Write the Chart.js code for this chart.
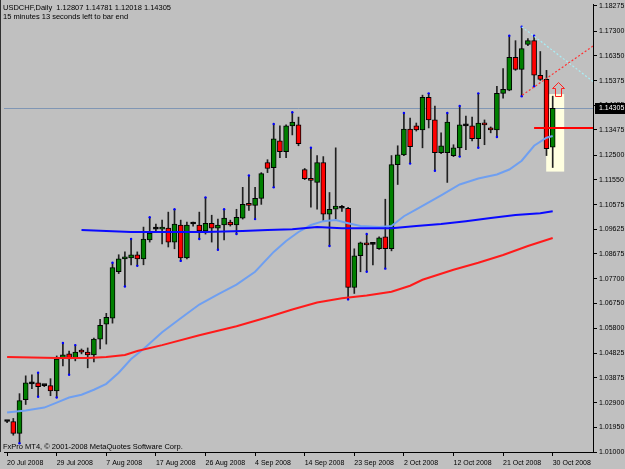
<!DOCTYPE html>
<html>
<head>
<meta charset="utf-8">
<script src="https://cdn.jsdelivr.net/npm/chart.js@4.4.0/dist/chart.umd.min.js"></script>
<style>
  html, body { margin: 0; padding: 0; background: #c0c0c0; }
</style>
</head>
<body>
<canvas id="myChart" width="625" height="469"></canvas>
<script>
// bar dates (daily bars incl. sunday sessions)
const julDays = [20,21,22,23,24,25,27,28,29,30,31];
const augDays = [1,3,4,5,6,7,8,10,11,12,13,14,15,17,18,19,20,21,22,24,25,26,27,28,29,31];
const sepDays = [1,2,3,4,5,7,8,9,10,11,12,14,15,16,17,18,19,21,22,23,24,25,26,28,29,30];
const octDays = [1,2,3,5,6,7,8,9,10,12,13,14,15,16,17,19,20,21,22,23,24,26,27,28,29,30];
const emptySlots = 6; // free space right of the last bar

const tickDays = ['20 Jul 2008','29 Jul 2008','7 Aug 2008','17 Aug 2008','26 Aug 2008','4 Sep 2008',
  '14 Sep 2008','23 Sep 2008','2 Oct 2008','12 Oct 2008','21 Oct 2008','30 Oct 2008'];
const priceTicks = [1.01000,1.01950,1.02900,1.03875,1.04825,1.05800,1.06750,1.07700,1.08675,1.09625,
  1.10575,1.11550,1.12500,1.13475,1.14425,1.15375,1.16350,1.17300,1.18275];

// OHLC
const opens = [1.0218,1.0218,1.0172,1.0303,1.0364,1.0368,1.0357,1.0357,1.0337,1.0464,
  1.0480,1.0464,1.0495,1.0487,1.0476,1.0537,1.0595,1.0618,1.0798,1.0848,
  1.0852,1.0864,1.0848,1.0921,1.0963,1.0963,1.0967,1.0913,1.0979,1.0852,
  1.0983,1.0979,1.0956,1.0986,1.0967,1.0979,1.0990,1.0979,1.1006,1.1059,
  1.1055,1.1082,1.1221,1.1201,1.1305,1.1263,1.1363,1.1367,1.1194,1.1159,
  1.1144,1.1221,1.1021,1.1040,1.1044,1.1044,1.0737,1.0860,1.0910,1.0904,
  1.0887,1.0933,1.0887,1.1213,1.1251,1.1351,1.1363,1.1347,1.1474,1.1386,
  1.1259,1.1259,1.1248,1.1278,1.1363,1.1363,1.1313,1.1374,1.1355,1.1347,
  1.1489,1.1501,1.1628,1.1582,1.1678,1.1693,1.1559,1.1543,1.12807];
const highs = [1.0222,1.0230,1.0326,1.0395,1.0399,1.0407,1.0360,1.0384,1.0472,1.0522,
  1.0491,1.0514,1.0499,1.0503,1.0541,1.0614,1.0637,1.0833,1.0864,1.0875,
  1.0925,1.0875,1.0971,1.1009,1.0983,1.0998,1.1029,1.1040,1.0998,1.0990,
  1.0990,1.1029,1.1086,1.1017,1.1002,1.1040,1.0998,1.1040,1.1125,1.1171,
  1.1125,1.1182,1.1232,1.1370,1.1363,1.1367,1.1416,1.1397,1.1198,1.1278,
  1.1248,1.1244,1.1105,1.1278,1.1055,1.1048,1.0887,1.0913,1.0944,1.0910,
  1.0933,1.1079,1.1248,1.1286,1.1413,1.1393,1.1374,1.1482,1.1489,1.1440,
  1.1336,1.1413,1.1290,1.1440,1.1401,1.1397,1.1489,1.1386,1.1359,1.1516,
  1.1585,1.1712,1.1693,1.1747,1.1701,1.1712,1.1651,1.1578,1.14781];
const lows = [1.0214,1.0165,1.0134,1.0284,1.0345,1.0314,1.0353,1.0318,1.0311,1.0433,
  1.0399,1.0453,1.0480,1.0426,1.0449,1.0499,1.0518,1.0599,1.0791,1.0741,
  1.0825,1.0821,1.0825,1.0913,1.0952,1.0906,1.0894,1.0887,1.0840,1.0848,
  1.0975,1.0925,1.0944,1.0913,1.0883,1.0921,1.0975,1.0944,1.1002,1.1036,
  1.1002,1.1059,1.1182,1.1125,1.1240,1.1240,1.1328,1.1286,1.1155,1.1048,
  1.1040,1.0994,1.0898,1.1002,1.1032,1.0691,1.0714,1.0798,1.0798,1.0825,
  1.0885,1.0810,1.0879,1.1136,1.1248,1.1217,1.1343,1.1278,1.1355,1.1189,
  1.1255,1.1144,1.1244,1.1244,1.1271,1.1305,1.1278,1.1290,1.1336,1.1320,
  1.1470,1.1499,1.1578,1.1478,1.1674,1.1516,1.1539,1.1248,1.12018];
const closes = [1.0218,1.0172,1.0299,1.0368,1.0364,1.0353,1.0357,1.0337,1.0460,1.0476,
  1.0460,1.0487,1.0487,1.0476,1.0537,1.0591,1.0622,1.0814,1.0848,1.0856,
  1.0864,1.0848,1.0925,1.0948,1.0963,1.0971,1.0913,1.0983,1.0852,1.0979,
  1.0983,1.0956,1.0986,1.0967,1.0979,1.1006,1.0979,1.1009,1.1059,1.1055,
  1.1082,1.1178,1.1198,1.1313,1.1263,1.1363,1.1378,1.1294,1.1159,1.1152,
  1.1221,1.1021,1.1040,1.1052,1.1044,1.0737,1.0860,1.0910,1.0902,1.0904,
  1.0929,1.0887,1.1213,1.1251,1.1351,1.1282,1.1347,1.1474,1.1386,1.1259,
  1.1286,1.1378,1.1278,1.1367,1.1363,1.1313,1.1374,1.1367,1.1347,1.1489,
  1.1505,1.1628,1.1582,1.1662,1.1693,1.1559,1.1543,1.1275,1.14305];

// moving averages, read at these bars
const maFastBars = [0,3,6,8,10,12,14,16,18,20,22,25,28,31,34,37,40,43,45,47,49,51,53,55,57,60,62,64,66,68,70,73,76,79,81,83,85,87,88];
const maFastVals = [1.0253,1.0261,1.0272,1.0291,1.0311,1.0322,1.0341,1.0364,1.0407,1.0460,1.0499,1.0564,1.0618,1.0671,
  1.0710,1.0748,1.0798,1.0875,1.0917,1.0952,1.0979,1.0994,1.0998,1.0986,1.0975,1.0971,1.0975,1.1013,1.1040,1.1067,
  1.1094,1.1136,1.1159,1.1175,1.1194,1.1228,1.1286,1.1317,1.1324];
const maMidBars = [12,16,20,26,32,38,42,46,50,54,58,62,66,70,74,78,82,86,88];
const maMidVals = [1.0960,1.0956,1.0952,1.0952,1.0952,1.0956,1.0960,1.0963,1.0971,1.0967,1.0967,1.0967,1.0975,1.0983,
  1.0994,1.1006,1.1018,1.1025,1.1032];
const maSlowBars = [0,8,13,16,19,21,25,31,37,42,46,50,54,58,62,65,67,72,76,80,84,88];
const maSlowVals = [1.0468,1.0464,1.0464,1.0468,1.0476,1.0491,1.0514,1.0552,1.0587,1.0622,1.0652,1.0679,1.0695,1.0706,
  1.0721,1.0744,1.0767,1.0806,1.0833,1.0863,1.0898,1.0929];

// fractal marks
const fractalUp = [5,9,11,17,20,23,27,32,35,39,43,46,49,58,64,68,71,73,76,81,83,85];
const fractalDown = [2,5,8,10,19,21,28,31,34,37,40,43,52,55,58,61,65,69,73,76,79,83,85];

// chart objects (bar index, price)
const lastPrice = 1.14305;
const boxBars = [86.95, 89.85];
const boxPrices = [1.1186, 1.1486];
const levelStart = 85;
const levelPrice = 1.1355;
const redRay = [[83.1, 1.1482], [94.5, 1.1672]];
const cyanRay = [[83, 1.1747], [94.5, 1.1535]];
const arrowBar = 88.8;
const arrowPrice = 1.1532;

const dates = [].concat(
  julDays.map(d => d + ' Jul 2008'), augDays.map(d => d + ' Aug 2008'),
  sepDays.map(d => d + ' Sep 2008'), octDays.map(d => d + ' Oct 2008'));
const labels = dates.concat(new Array(emptySlots).fill(''));

function sparse(bars, vals) {
  const out = new Array(dates.length).fill(null);
  bars.forEach((b, k) => { out[b] = vals[k]; });
  return out;
}
function bodyColor(i) {
  if (closes[i] > opens[i]) return '#008000';
  if (closes[i] < opens[i]) return '#ff0000';
  return '#000000';
}

const overlay = {
  id: 'overlay',
  beforeDraw(chart) {
    const c = chart.ctx;
    c.save();
    c.fillStyle = '#c0c0c0';
    c.fillRect(0, 0, chart.width, chart.height);
    c.restore();
  },
  beforeDatasetsDraw(chart) {
    const c = chart.ctx, a = chart.chartArea, x = chart.scales.x, y = chart.scales.y;
    c.save();
    c.fillStyle = '#ffffe0';
    const x0 = x.getPixelForValue(boxBars[0]), x1 = x.getPixelForValue(boxBars[1]);
    const y0 = y.getPixelForValue(boxPrices[1]), y1 = y.getPixelForValue(boxPrices[0]);
    c.fillRect(x0, y0, x1 - x0, y1 - y0);
    const py = Math.round(y.getPixelForValue(lastPrice)) + 0.5;
    c.strokeStyle = '#8096b4';
    c.lineWidth = 1;
    c.beginPath(); c.moveTo(a.left, py); c.lineTo(a.right, py); c.stroke();
    c.restore();
  },
  afterDatasetsDraw(chart) {
    const c = chart.ctx, a = chart.chartArea, x = chart.scales.x, y = chart.scales.y;
    c.save();
    c.beginPath(); c.rect(a.left, a.top, a.right - a.left, a.bottom - a.top); c.clip();
    // level line
    const ly = Math.round(y.getPixelForValue(levelPrice));
    c.strokeStyle = '#ff0000';
    c.lineWidth = 2;
    c.beginPath(); c.moveTo(x.getPixelForValue(levelStart), ly); c.lineTo(a.right, ly); c.stroke();
    // trend rays
    c.lineWidth = 1.2;
    c.setLineDash([2, 2]);
    [[redRay, '#ff3030'], [cyanRay, '#a8eef6']].forEach(([ray, col]) => {
      c.strokeStyle = col;
      c.beginPath();
      c.moveTo(x.getPixelForValue(ray[0][0]), y.getPixelForValue(ray[0][1]));
      c.lineTo(x.getPixelForValue(ray[1][0]), y.getPixelForValue(ray[1][1]));
      c.stroke();
    });
    c.setLineDash([]);
    // buy arrow
    const ax = Math.round(x.getPixelForValue(arrowBar)) + 0.5, ay = Math.round(y.getPixelForValue(arrowPrice)) + 0.5;
    c.lineWidth = 1;
    c.strokeStyle = '#ff2020';
    c.beginPath();
    c.moveTo(ax, ay);
    c.lineTo(ax + 6, ay + 6); c.lineTo(ax + 3, ay + 6); c.lineTo(ax + 3, ay + 14);
    c.lineTo(ax - 3, ay + 14); c.lineTo(ax - 3, ay + 6); c.lineTo(ax - 6, ay + 6);
    c.closePath();
    c.stroke();
    c.restore();
  },
  afterDraw(chart) {
    const c = chart.ctx, a = chart.chartArea, y = chart.scales.y;
    c.save();
    c.strokeStyle = '#303030';
    c.lineWidth = 1;
    c.beginPath(); c.moveTo(0.5, 0); c.lineTo(0.5, a.bottom); c.stroke();
    c.fillStyle = '#000';
    c.font = '7.5px "Liberation Sans", Arial, sans-serif';
    c.textBaseline = 'alphabetic';
    c.fillText('USDCHF,Daily  1.12807 1.14781 1.12018 1.14305', 3, 10);
    c.fillText('15 minutes 13 seconds left to bar end', 3, 19);
    c.fillText('FxPro MT4, \u00a9 2001-2008 MetaQuotes Software Corp.', 3, 449);
    // current price tag
    const py = Math.round(y.getPixelForValue(lastPrice));
    c.fillStyle = '#000';
    c.fillRect(a.right + 2, py - 5, chart.width - a.right - 2, 11);
    c.fillStyle = '#fff';
    c.font = '7px "Liberation Sans", Arial, sans-serif';
    c.textBaseline = 'middle';
    c.fillText(lastPrice.toFixed(5), a.right + 6, py + 0.5);
    c.restore();
  }
};

const tickFont = { family: '"Liberation Sans", Arial, sans-serif', size: 7 };

new Chart(document.getElementById('myChart').getContext('2d'), {
  type: 'bar',
  data: {
    labels: labels,
    datasets: [
      {
        label: 'wicks',
        data: dates.map((d, i) => [lows[i], highs[i]]),
        backgroundColor: '#202020',
        barThickness: 1,
        grouped: false,
        order: 4
      },
      {
        label: 'bodies',
        data: dates.map((d, i) => [opens[i], closes[i]]),
        backgroundColor: dates.map((d, i) => bodyColor(i)),
        borderColor: '#000',
        borderWidth: 1,
        borderSkipped: false,
        barThickness: 5,
        minBarLength: 2,
        grouped: false,
        order: 3
      },
      {
        type: 'line', label: 'MA slow', data: sparse(maSlowBars, maSlowVals),
        borderColor: '#ff1a1a', borderWidth: 2, pointRadius: 0, spanGaps: true, order: 2
      },
      {
        type: 'line', label: 'MA mid', data: sparse(maMidBars, maMidVals),
        borderColor: '#0a0aff', borderWidth: 2, pointRadius: 0, spanGaps: true, order: 2
      },
      {
        type: 'line', label: 'MA fast', data: sparse(maFastBars, maFastVals),
        borderColor: '#6f9ff0', borderWidth: 2, pointRadius: 0, spanGaps: true, order: 2
      },
      {
        type: 'line', label: 'fractal up', data: sparse(fractalUp, fractalUp.map(i => highs[i])),
        showLine: false, pointRadius: 1.2, pointBorderWidth: 0, pointBackgroundColor: '#0000ff', order: 1
      },
      {
        type: 'line', label: 'fractal down', data: sparse(fractalDown, fractalDown.map(i => lows[i])),
        showLine: false, pointRadius: 1.2, pointBorderWidth: 0, pointBackgroundColor: '#0000ff', order: 1
      }
    ]
  },
  options: {
    responsive: false,
    animation: false,
    layout: { padding: 0 },
    plugins: { legend: { display: false }, tooltip: { enabled: false } },
    scales: {
      x: {
        grid: { display: true, drawOnChartArea: false, offset: false, color: '#000', tickLength: 4 },
        border: { display: true, color: '#000' },
        ticks: { autoSkip: false, maxRotation: 0, align: 'start', padding: 3, color: '#000', font: tickFont },
        afterBuildTicks(s) { s.ticks = s.ticks.filter(t => tickDays.includes(dates[t.value])); },
        afterFit(s) { s.height = 17; s.paddingLeft = 0; s.paddingRight = 0; }
      },
      y: {
        position: 'right',
        min: 1.01,
        max: 1.1835,
        grid: { display: true, drawOnChartArea: false, color: '#000', tickLength: 4 },
        border: { display: true, color: '#000' },
        ticks: { autoSkip: false, padding: 2, color: '#000', font: tickFont, callback: v => v.toFixed(5) },
        afterBuildTicks(s) { s.ticks = priceTicks.map(v => ({ value: v })); },
        afterFit(s) { s.width = 32; s.paddingTop = 0; s.paddingBottom = 0; }
      }
    }
  },
  plugins: [overlay]
});
</script>
</body>
</html>
